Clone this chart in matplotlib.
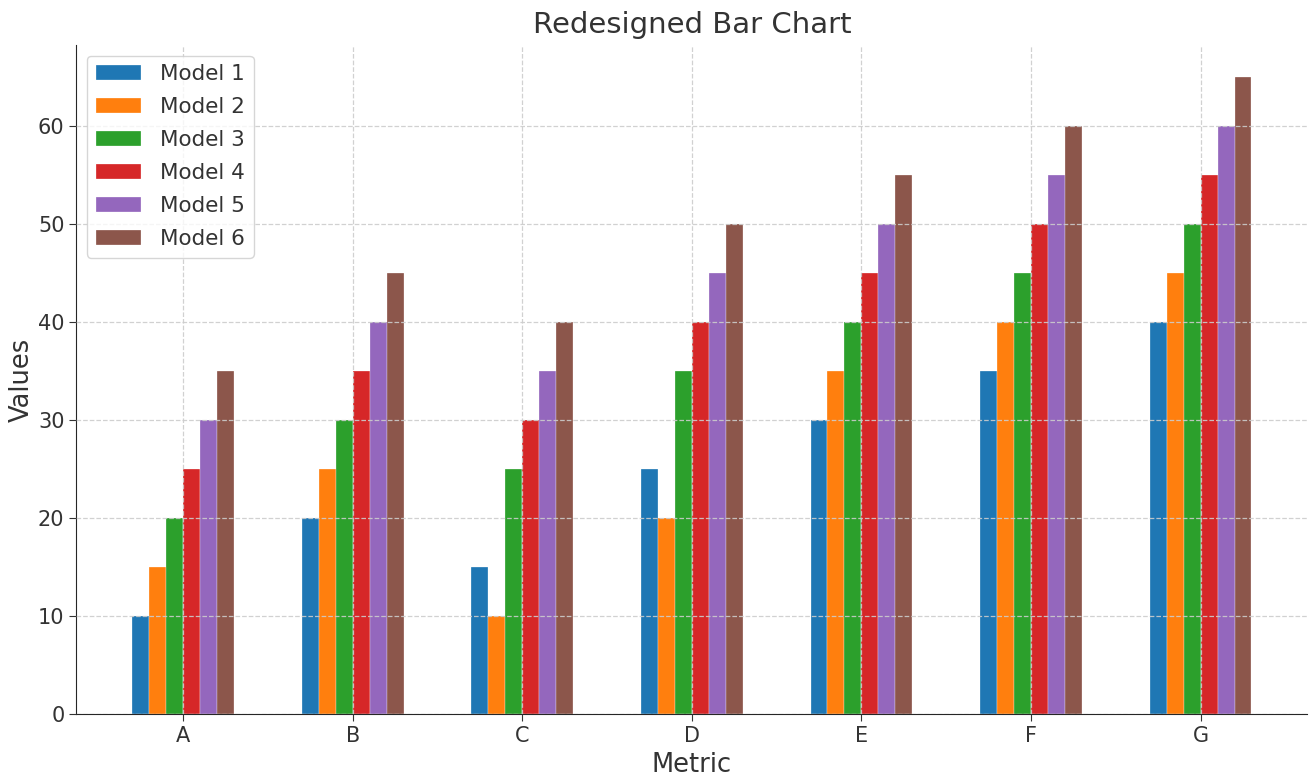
import numpy as np
import matplotlib
matplotlib.use("Agg")
import matplotlib.pyplot as plt
import seaborn as sns

categories = ["A", "B", "C", "D", "E", "F", "G"]
models = ["Model 1", "Model 2", "Model 3", "Model 4", "Model 5", "Model 6"]
model1 = [10, 20, 15, 25, 30, 35, 40]
model2 = [15, 25, 10, 20, 35, 40, 45]
model3 = [20, 30, 25, 35, 40, 45, 50]
model4 = [25, 35, 30, 40, 45, 50, 55]
model5 = [30, 40, 35, 45, 50, 55, 60]
model6 = [35, 45, 40, 50, 55, 60, 65]
series = [model1, model2, model3, model4, model5, model6]
colors = ["#1f77b4", "#ff7f0e", "#2ca02c", "#d62728", "#9467bd", "#8c564b"]

sns.set_style("ticks")
plt.rcParams['font.family'] = ['DejaVu Sans']
txt = "#333333"

fig = plt.figure(figsize=(13.14, 7.78), dpi=100)
ax = fig.add_axes([0.058, 0.082, 0.937, 0.86])

x = np.arange(len(categories))
w = 0.1
for i, vals in enumerate(series):
    ax.bar(x + (i - 2.5) * w, vals, w, color=colors[i], label=models[i],
           edgecolor="white", linewidth=0.2)

ax.set_xticks(x)
ax.set_xticklabels(categories)
ax.tick_params(labelsize=15, colors=txt, length=5)
ax.set_xlabel("Metric", fontsize=18.5, color=txt, labelpad=4)
ax.set_ylabel("Values", fontsize=18.5, color=txt, labelpad=2)
ax.set_title("Redesigned Bar Chart", fontsize=21, color=txt, pad=9)
ax.grid(True, linestyle="--", color="#cccccc", linewidth=0.9, alpha=0.9)
ax.set_axisbelow(False)
sns.despine(ax=ax)
leg = ax.legend(loc="upper left", fontsize=15.5, frameon=True, labelspacing=0.6,
                handlelength=2.1, handletextpad=0.9, borderaxespad=0.5)
for t in leg.get_texts():
    t.set_color(txt)

fig.savefig("out.png")
